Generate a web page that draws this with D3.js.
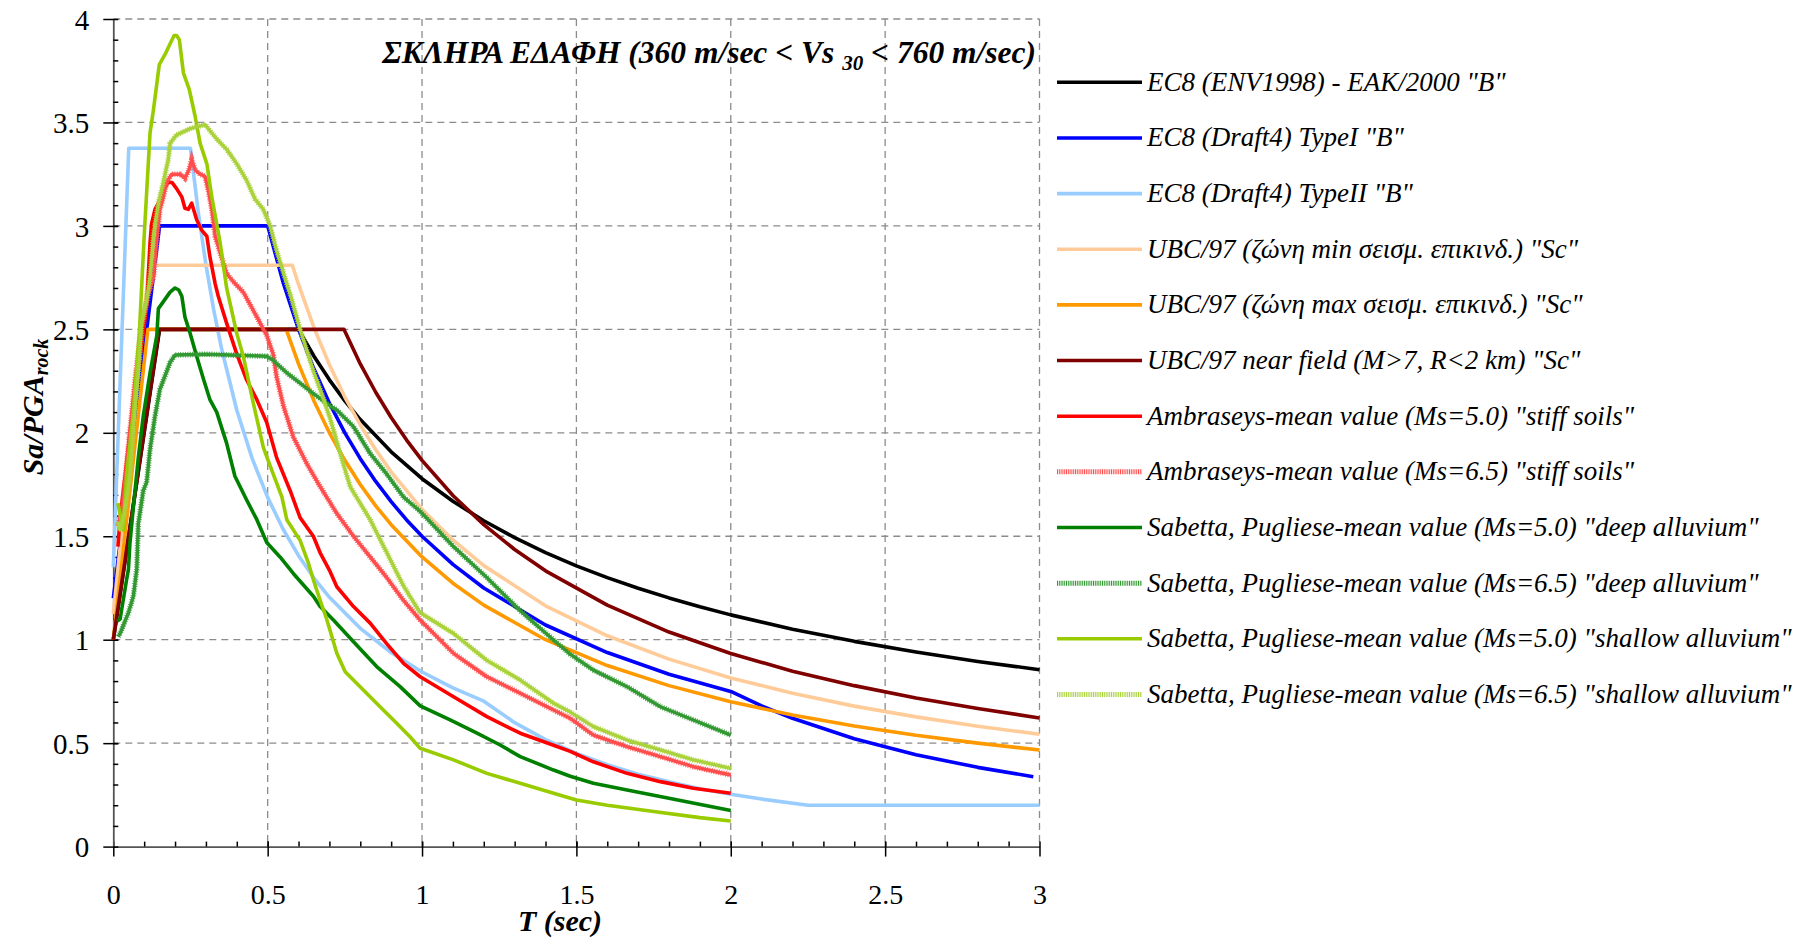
<!DOCTYPE html>
<html>
<head>
<meta charset="utf-8">
<script src="https://cdn.jsdelivr.net/npm/d3@7"></script>
<style>
  body { margin: 0; background: #fff; }
  svg { display: block; font-family: 'Liberation Serif', 'Times New Roman', serif; }
</style>
</head>
<body>
<div id="chart"></div>
<script>
// spectral ordinates Sa/PGA against period T (sec)
const ec8Env = [[0, 1.0], [0.15, 2.5], [0.6, 2.5], [0.65, 2.37], [0.7, 2.256], [0.75, 2.154], [0.8, 2.064], [0.9, 1.908], [1.0, 1.778], [1.1, 1.669], [1.2, 1.575], [1.3, 1.493], [1.4, 1.421], [1.5, 1.357], [1.6, 1.3], [1.7, 1.249], [1.8, 1.202], [1.9, 1.159], [2.0, 1.12], [2.2, 1.051], [2.4, 0.992], [2.6, 0.941], [2.8, 0.895], [3.0, 0.855]]
const ec8TypeI = [[0, 1.2], [0.15, 3.0], [0.5, 3.0], [0.55, 2.727], [0.6, 2.5], [0.65, 2.308], [0.7, 2.143], [0.75, 2.0], [0.8, 1.875], [0.85, 1.765], [0.9, 1.667], [0.95, 1.579], [1.0, 1.5], [1.1, 1.364], [1.2, 1.25], [1.4, 1.071], [1.6, 0.938], [1.8, 0.833], [2.0, 0.75], [2.1, 0.68], [2.2, 0.62], [2.4, 0.521], [2.6, 0.444], [2.8, 0.383], [2.98, 0.338]]
const ec8TypeII = [[0, 1.35], [0.05, 3.375], [0.25, 3.375], [0.275, 3.068], [0.3, 2.813], [0.325, 2.596], [0.35, 2.411], [0.4, 2.109], [0.45, 1.875], [0.5, 1.688], [0.55, 1.534], [0.6, 1.406], [0.65, 1.298], [0.7, 1.205], [0.8, 1.055], [0.9, 0.938], [1.0, 0.844], [1.1, 0.767], [1.2, 0.703], [1.3, 0.599], [1.4, 0.517], [1.5, 0.45], [1.6, 0.396], [1.7, 0.35], [1.8, 0.313], [1.9, 0.28], [2.0, 0.253], [2.1, 0.23], [2.25, 0.2], [3.0, 0.2]]
const ubcMin = [[0, 1.124], [0.116, 2.81], [0.58, 2.81], [0.6, 2.717], [0.65, 2.508], [0.7, 2.329], [0.75, 2.173], [0.8, 2.038], [0.85, 1.918], [0.9, 1.811], [1.0, 1.63], [1.1, 1.482], [1.2, 1.358], [1.4, 1.164], [1.6, 1.019], [1.8, 0.906], [2.0, 0.815], [2.2, 0.741], [2.4, 0.679], [2.6, 0.627], [2.8, 0.582], [3.0, 0.543]]
const ubcMax = [[0, 1.0], [0.112, 2.5], [0.56, 2.5], [0.6, 2.333], [0.65, 2.154], [0.7, 2.0], [0.75, 1.867], [0.8, 1.75], [0.85, 1.647], [0.9, 1.556], [1.0, 1.4], [1.1, 1.273], [1.2, 1.167], [1.4, 1.0], [1.6, 0.875], [1.8, 0.778], [2.0, 0.7], [2.2, 0.636], [2.4, 0.583], [2.6, 0.538], [2.8, 0.5], [3.0, 0.467]]
const ubcNear = [[0, 1.0], [0.149, 2.5], [0.747, 2.5], [0.8, 2.333], [0.85, 2.196], [0.9, 2.074], [0.95, 1.965], [1.0, 1.867], [1.1, 1.697], [1.2, 1.556], [1.3, 1.436], [1.4, 1.333], [1.6, 1.167], [1.8, 1.037], [2.0, 0.933], [2.2, 0.848], [2.4, 0.778], [2.6, 0.718], [2.8, 0.667], [3.0, 0.622]]
const ambr50 = [[0.015, 1.45], [0.022, 1.59], [0.038, 1.79], [0.06, 2.08], [0.087, 2.37], [0.108, 2.61], [0.113, 2.75], [0.119, 2.92], [0.124, 3.01], [0.135, 3.08], [0.146, 3.11], [0.162, 3.17], [0.178, 3.21], [0.19, 3.21], [0.205, 3.18], [0.222, 3.14], [0.232, 3.085], [0.243, 3.08], [0.254, 3.11], [0.262, 3.07], [0.27, 3.03], [0.286, 2.98], [0.303, 2.95], [0.313, 2.85], [0.33, 2.72], [0.34, 2.66], [0.367, 2.53], [0.4, 2.38], [0.432, 2.255], [0.465, 2.16], [0.497, 2.05], [0.529, 1.88], [0.573, 1.72], [0.605, 1.59], [0.648, 1.5], [0.67, 1.42], [0.702, 1.33], [0.724, 1.256], [0.778, 1.16], [0.832, 1.08], [0.886, 0.98], [0.94, 0.886], [0.994, 0.821], [1.102, 0.724], [1.21, 0.628], [1.318, 0.548], [1.426, 0.49], [1.48, 0.46], [1.555, 0.41], [1.664, 0.354], [1.772, 0.314], [1.879, 0.282], [2.0, 0.258]]
const ambr65 = [[0.015, 1.55], [0.03, 1.65], [0.05, 1.95], [0.07, 2.25], [0.09, 2.5], [0.11, 2.65], [0.13, 2.75], [0.14, 2.92], [0.151, 3.08], [0.162, 3.14], [0.173, 3.21], [0.189, 3.25], [0.216, 3.25], [0.232, 3.23], [0.245, 3.27], [0.254, 3.32], [0.265, 3.27], [0.281, 3.25], [0.297, 3.24], [0.308, 3.17], [0.319, 3.08], [0.33, 2.95], [0.346, 2.87], [0.367, 2.77], [0.389, 2.73], [0.421, 2.68], [0.465, 2.56], [0.497, 2.47], [0.518, 2.38], [0.529, 2.27], [0.551, 2.13], [0.583, 1.98], [0.627, 1.85], [0.67, 1.74], [0.724, 1.61], [0.778, 1.5], [0.832, 1.4], [0.886, 1.3], [0.94, 1.19], [0.994, 1.095], [1.102, 0.934], [1.21, 0.821], [1.318, 0.741], [1.426, 0.66], [1.48, 0.62], [1.555, 0.539], [1.664, 0.483], [1.772, 0.435], [1.879, 0.386], [2.0, 0.346]]
const sabDeep50 = [[0.013, 1.09], [0.022, 1.1], [0.043, 1.29], [0.049, 1.34], [0.054, 1.47], [0.065, 1.64], [0.081, 1.88], [0.097, 2.08], [0.119, 2.29], [0.141, 2.47], [0.146, 2.6], [0.165, 2.64], [0.184, 2.68], [0.2, 2.7], [0.212, 2.69], [0.222, 2.66], [0.232, 2.56], [0.249, 2.48], [0.27, 2.37], [0.292, 2.26], [0.313, 2.16], [0.335, 2.1], [0.367, 1.95], [0.394, 1.79], [0.432, 1.675], [0.465, 1.58], [0.497, 1.47], [0.54, 1.4], [0.583, 1.32], [0.648, 1.21], [0.67, 1.16], [0.713, 1.095], [0.778, 0.99], [0.853, 0.87], [0.929, 0.773], [0.994, 0.68], [1.091, 0.612], [1.178, 0.548], [1.253, 0.491], [1.318, 0.435], [1.426, 0.37], [1.48, 0.34], [1.555, 0.306], [1.664, 0.274], [1.804, 0.233], [2.0, 0.175]]
const sabDeep65 = [[0.016, 1.015], [0.022, 1.03], [0.049, 1.13], [0.065, 1.21], [0.076, 1.34], [0.081, 1.56], [0.097, 1.72], [0.108, 1.76], [0.119, 1.92], [0.135, 2.08], [0.151, 2.21], [0.184, 2.34], [0.2, 2.376], [0.3, 2.38], [0.4, 2.375], [0.497, 2.37], [0.518, 2.35], [0.562, 2.29], [0.605, 2.24], [0.648, 2.19], [0.702, 2.13], [0.724, 2.11], [0.778, 2.03], [0.832, 1.9], [0.886, 1.8], [0.94, 1.69], [0.994, 1.62], [1.102, 1.45], [1.21, 1.3], [1.318, 1.14], [1.426, 0.999], [1.48, 0.93], [1.555, 0.853], [1.664, 0.773], [1.772, 0.676], [1.879, 0.612], [2.0, 0.539]]
const sabShallow50 = [[0.015, 1.66], [0.032, 1.53], [0.043, 1.79], [0.065, 2.1], [0.085, 2.5], [0.1, 2.95], [0.119, 3.45], [0.13, 3.56], [0.149, 3.78], [0.168, 3.83], [0.184, 3.88], [0.197, 3.92], [0.205, 3.92], [0.214, 3.9], [0.227, 3.74], [0.246, 3.66], [0.265, 3.53], [0.281, 3.4], [0.303, 3.3], [0.319, 3.14], [0.346, 2.92], [0.367, 2.7], [0.4, 2.48], [0.421, 2.37], [0.454, 2.14], [0.486, 1.93], [0.508, 1.84], [0.546, 1.69], [0.562, 1.58], [0.605, 1.48], [0.632, 1.37], [0.648, 1.29], [0.67, 1.19], [0.691, 1.1], [0.724, 0.934], [0.751, 0.845], [0.81, 0.757], [0.864, 0.676], [0.918, 0.596], [0.961, 0.531], [0.994, 0.475], [1.102, 0.419], [1.21, 0.354], [1.318, 0.306], [1.426, 0.258], [1.5, 0.225], [1.6, 0.2], [1.75, 0.17], [1.9, 0.14], [2.0, 0.124]]
const sabShallow65 = [[0.015, 1.57], [0.022, 1.53], [0.035, 1.6], [0.054, 1.79], [0.065, 2.01], [0.081, 2.29], [0.092, 2.53], [0.108, 2.64], [0.119, 2.75], [0.13, 2.95], [0.146, 3.11], [0.162, 3.21], [0.178, 3.32], [0.184, 3.4], [0.205, 3.44], [0.249, 3.47], [0.297, 3.49], [0.313, 3.46], [0.335, 3.42], [0.367, 3.37], [0.4, 3.3], [0.432, 3.22], [0.459, 3.13], [0.486, 3.08], [0.508, 3.0], [0.529, 2.88], [0.562, 2.72], [0.573, 2.67], [0.605, 2.5], [0.648, 2.3], [0.67, 2.21], [0.702, 2.07], [0.735, 1.9], [0.767, 1.74], [0.832, 1.58], [0.886, 1.42], [0.94, 1.26], [0.994, 1.13], [1.102, 1.03], [1.21, 0.9], [1.318, 0.805], [1.426, 0.693], [1.48, 0.65], [1.555, 0.58], [1.664, 0.515], [1.772, 0.467], [1.879, 0.419], [2.0, 0.378]]

const seriesNames = [
  'EC8 (ENV1998) - ΕΑΚ/2000 "B"',
  'EC8 (Draft4) TypeI "B"',
  'EC8 (Draft4) TypeII "B"',
  'UBC/97 (ζώνη min σεισμ. επικινδ.) "Sc"',
  'UBC/97 (ζώνη max σεισμ. επικινδ.) "Sc"',
  'UBC/97 near field (M>7, R<2 km) "Sc"',
  'Ambraseys-mean value (Ms=5.0) "stiff soils"',
  'Ambraseys-mean value (Ms=6.5) "stiff soils"',
  'Sabetta, Pugliese-mean value (Ms=5.0) "deep alluvium"',
  'Sabetta, Pugliese-mean value (Ms=6.5) "deep alluvium"',
  'Sabetta, Pugliese-mean value (Ms=5.0) "shallow alluvium"',
  'Sabetta, Pugliese-mean value (Ms=6.5) "shallow alluvium"'
]
const seriesValues = [ec8Env, ec8TypeI, ec8TypeII, ubcMin, ubcMax, ubcNear, ambr50, ambr65, sabDeep50, sabDeep65, sabShallow50, sabShallow65]
const seriesColors = ['#000000', '#0000ff', '#99ccff', '#ffcc99', '#ff9900', '#800000', '#ff0000', '#ff4d4d', '#008000', '#339933', '#99cc00', '#aad23c']
// Ms=6.5 records are drawn with a hatched stroke
const hatched = [false, false, false, false, false, false, false, true, false, true, false, true]

const xTicks = [0, 0.5, 1, 1.5, 2, 2.5, 3]
const yTicks = [0, 0.5, 1, 1.5, 2, 2.5, 3, 3.5, 4]

const width = 1813
const height = 938
const plot = { left: 113.3, right: 1039.5, top: 19, bottom: 846.6 }

const series = seriesNames.map((name, i) => ({
  name,
  values: seriesValues[i],
  color: seriesColors[i],
  hatched: hatched[i]
}))

const svg = d3.select('#chart')
  .append('svg')
  .attr('width', width)
  .attr('height', height)

const xScale = d3.scaleLinear().domain([0, 3]).range([plot.left, plot.right])
const yScale = d3.scaleLinear().domain([0, 4]).range([plot.bottom, plot.top])

// dashed grid, including the top and right borders
svg.append('g')
  .selectAll('line')
  .data(xTicks.filter(d => d > 0))
  .enter().append('line')
  .attr('x1', d => xScale(d))
  .attr('x2', d => xScale(d))
  .attr('y1', plot.top)
  .attr('y2', plot.bottom)
  .attr('stroke', '#8c8c8c')
  .attr('stroke-width', 1.3)
  .attr('stroke-dasharray', '7 5')

svg.append('g')
  .selectAll('line')
  .data(yTicks.filter(d => d > 0))
  .enter().append('line')
  .attr('x1', plot.left)
  .attr('x2', plot.right)
  .attr('y1', d => yScale(d))
  .attr('y2', d => yScale(d))
  .attr('stroke', '#8c8c8c')
  .attr('stroke-width', 1.3)
  .attr('stroke-dasharray', '7 5')

// x axis: major ticks cross the line, minor ticks point inward
const xAxisMajor = d3.axisBottom(xScale).tickValues(xTicks).tickSizeInner(10).tickSizeOuter(0).tickFormat(d3.format('~g'))
const gx = svg.append('g')
  .attr('transform', `translate(0,${plot.bottom})`)
  .call(xAxisMajor)
gx.select('.domain').attr('stroke', '#555').attr('stroke-width', 1.8)
gx.selectAll('.tick line').attr('stroke', '#000').attr('stroke-width', 1.5).attr('y1', -5)
gx.selectAll('.tick text')
  .attr('font-family', "'Liberation Serif', serif")
  .attr('font-size', 28)
  .attr('fill', '#000')
  .attr('dy', null)
  .attr('y', 57)

svg.append('g')
  .attr('transform', `translate(0,${plot.bottom})`)
  .call(d3.axisTop(xScale).tickValues(d3.range(1, 30).map(d => d / 10)).tickSize(5).tickFormat(''))
  .call(g => g.select('.domain').remove())
  .call(g => g.selectAll('.tick line').attr('stroke', '#000').attr('stroke-width', 1.5))

// y axis
const yAxisMajor = d3.axisLeft(yScale).tickValues(yTicks).tickSizeInner(10).tickSizeOuter(0).tickFormat(d3.format('~g'))
const gy = svg.append('g')
  .attr('transform', `translate(${plot.left},0)`)
  .call(yAxisMajor)
gy.select('.domain').attr('stroke', '#555').attr('stroke-width', 1.8)
gy.selectAll('.tick line').attr('stroke', '#000').attr('stroke-width', 1.5).attr('x1', 5)
gy.selectAll('.tick text')
  .attr('font-family', "'Liberation Serif', serif")
  .attr('font-size', 29)
  .attr('fill', '#000')
  .attr('x', -24)
  .attr('dy', '0.35em')

svg.append('g')
  .attr('transform', `translate(${plot.left},0)`)
  .call(d3.axisRight(yScale).tickValues(d3.range(1, 40).map(d => d / 10)).tickSize(5).tickFormat(''))
  .call(g => g.select('.domain').remove())
  .call(g => g.selectAll('.tick line').attr('stroke', '#000').attr('stroke-width', 1.5))

// spectra
const line = d3.line()
  .x(d => xScale(d[0]))
  .y(d => yScale(d[1]))

const curves = svg.append('g')
series.forEach(s => {
  if (s.hatched) {
    curves.append('path')
      .attr('d', line(s.values))
      .attr('fill', 'none')
      .attr('stroke', s.color)
      .attr('stroke-width', 3.4)
      .attr('stroke-linejoin', 'round')
    curves.append('path')
      .attr('d', line(s.values))
      .attr('fill', 'none')
      .attr('stroke', s.color)
      .attr('stroke-width', 5.6)
      .attr('stroke-dasharray', '1 1.4')
      .attr('opacity', 0.85)
  } else {
    curves.append('path')
      .attr('d', line(s.values))
      .attr('fill', 'none')
      .attr('stroke', s.color)
      .attr('stroke-width', 3.6)
      .attr('stroke-linejoin', 'round')
  }
})

// title inside the plot
const title = svg.append('text')
  .attr('x', 1036)
  .attr('y', 63)
  .attr('text-anchor', 'end')
  .attr('font-size', 31.5)
  .attr('font-weight', 'bold')
  .attr('font-style', 'italic')
title.append('tspan').text('ΣΚΛΗΡΑ ΕΔΑΦΗ (360 m/sec < Vs ')
title.append('tspan').attr('font-size', 21).attr('dy', 7).text('30')
title.append('tspan').attr('dy', -7).text(' < 760 m/sec)')

// axis titles
svg.append('text')
  .attr('x', 560)
  .attr('y', 931)
  .attr('text-anchor', 'middle')
  .attr('font-size', 30)
  .attr('font-weight', 'bold')
  .attr('font-style', 'italic')
  .text('T (sec)')

const yTitle = svg.append('text')
  .attr('transform', 'translate(43,407) rotate(-90)')
  .attr('text-anchor', 'middle')
  .attr('font-size', 30)
  .attr('font-weight', 'bold')
  .attr('font-style', 'italic')
yTitle.append('tspan').text('Sa/PGA')
yTitle.append('tspan').attr('font-size', 20).attr('dy', 5).text('rock')

// legend
const legend = svg.append('g')
  .attr('transform', 'translate(1057,82.3)')

const rows = legend.selectAll('g')
  .data(series)
  .enter().append('g')
  .attr('transform', (d, i) => `translate(0,${i * 55.65})`)

rows.append('line')
  .attr('x1', 0)
  .attr('x2', 85)
  .attr('stroke', d => d.color)
  .attr('stroke-width', d => d.hatched ? 5 : 3.6)
  .attr('stroke-dasharray', d => d.hatched ? '1 0.8' : null)

rows.append('text')
  .attr('x', 90)
  .attr('y', 8.5)
  .attr('font-size', 27)
  .attr('font-style', 'italic')
  .text(d => d.name)
</script>
</body>
</html>
